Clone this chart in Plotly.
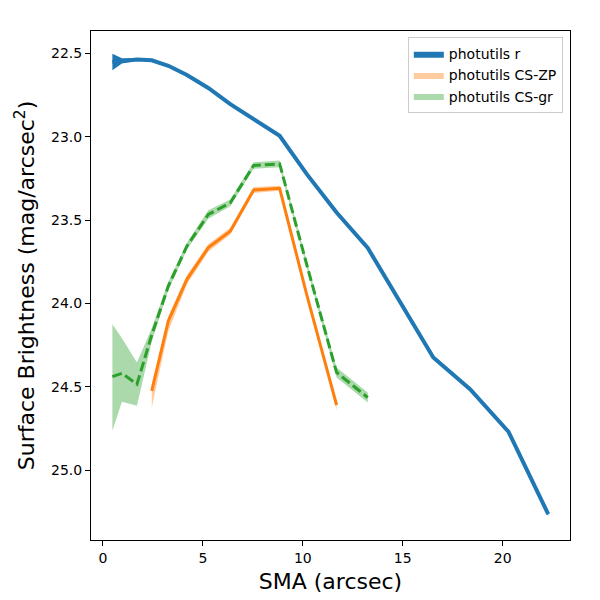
import plotly.graph_objects as go

# semi-major axis grid (arcsec)
sma = [0.47, 0.95, 1.70, 2.44, 3.27, 4.20, 5.27, 6.37, 7.54, 8.84,
       10.2, 11.69, 13.25, 14.9, 16.53, 18.37, 20.29, 22.28]

# photutils r
r_mag = [22.552, 22.545, 22.537, 22.542, 22.575, 22.630, 22.708, 22.805, 22.895,
         22.995, 23.225, 23.455, 23.668, 24.0, 24.325, 24.515, 24.77, 25.265]
r_err = [0.05, 0.016, 0.008, 0.006, 0.005, 0.004, 0.004, 0.004, 0.004,
         0.004, 0.004, 0.004, 0.005, 0.005, 0.006, 0.006, 0.008, 0.012]

# photutils CS-ZP (starts at 2.44, ends at 11.69)
zp_sma = sma[3:12]
zp_mag = [24.525, 24.106, 23.856, 23.666, 23.567, 23.32, 23.31, 23.95, 24.61]
zp_err_lo = [0.04, 0.03, 0.025, 0.02, 0.02, 0.018, 0.015, 0.015, 0.02]
zp_err_hi = [0.10, 0.06, 0.03, 0.025, 0.02, 0.018, 0.015, 0.015, 0.03]

# photutils CS-gr (ends at 13.25)
gr_sma = sma[:13]
gr_mag = [24.44, 24.42, 24.485, 24.19, 23.896, 23.657, 23.467, 23.397, 23.173,
          23.163, 23.77, 24.415, 24.565]
gr_err_lo = [0.314, 0.21, 0.13, 0.04, 0.025, 0.02, 0.025, 0.02, 0.02,
             0.02, 0.02, 0.03, 0.03]
gr_err_hi = [0.325, 0.17, 0.13, 0.04, 0.025, 0.02, 0.025, 0.02, 0.02,
             0.02, 0.02, 0.03, 0.03]

series = [
    ("photutils r", sma, r_mag, r_err, r_err, "#1f77b4", "rgba(31,119,180,1)", None, 4),
    ("photutils CS-ZP", zp_sma, zp_mag, zp_err_lo, zp_err_hi, "#ff7f0e", "rgba(255,127,14,0.4)", None, 3),
    ("photutils CS-gr", gr_sma, gr_mag, gr_err_lo, gr_err_hi, "#2ca02c", "rgba(44,160,44,0.4)", "10px,4px", 3),
]

fig = go.Figure()
for name, x, m, elo, ehi, col, fillcol, dash, lw in series:
    top = [v - e for v, e in zip(m, elo)]
    bot = [v + e for v, e in zip(m, ehi)]
    fig.add_trace(go.Scatter(x=x + x[::-1], y=top + bot[::-1], fill="toself",
                             fillcolor=fillcol, line=dict(width=0), mode="lines",
                             name=name, hoverinfo="skip"))
    fig.add_trace(go.Scatter(x=x, y=m, mode="lines", showlegend=False,
                             line=dict(color=col, width=lw, dash=dash)))

axis_common = dict(showline=True, linecolor="black", linewidth=1, mirror=True,
                   ticks="outside", ticklen=5, tickcolor="black", showgrid=False,
                   zeroline=False, automargin=False,
                   tickfont=dict(size=14, color="black"))

fig.update_xaxes(range=[-0.6, 23.37], tickvals=[0, 5, 10, 15, 20],
                 title=dict(text="SMA (arcsec)", font=dict(size=22, color="black"), standoff=8),
                 **axis_common)
fig.update_yaxes(range=[25.42, 22.366], tickvals=[22.5, 23.0, 23.5, 24.0, 24.5, 25.0],
                 tickformat=".1f",
                 title=dict(text="Surface Brightness (mag/arcsec<sup>2</sup>)",
                            font=dict(size=22, color="black"), standoff=10),
                 **axis_common)

fig.update_layout(
    width=600, height=600,
    margin=dict(l=91, r=30, t=31, b=60),
    plot_bgcolor="white", paper_bgcolor="white",
    font=dict(family="DejaVu Sans", color="black"),
    legend=dict(x=0.985, y=0.988, xanchor="right", yanchor="top",
                bgcolor="white", bordercolor="#cccccc", borderwidth=1,
                font=dict(size=14)),
)

# drop the browser's default body margin so the figure sits at the page corner
fig.write_html("out.html", config={"displayModeBar": False},
               post_script="document.body.style.margin='0';")
